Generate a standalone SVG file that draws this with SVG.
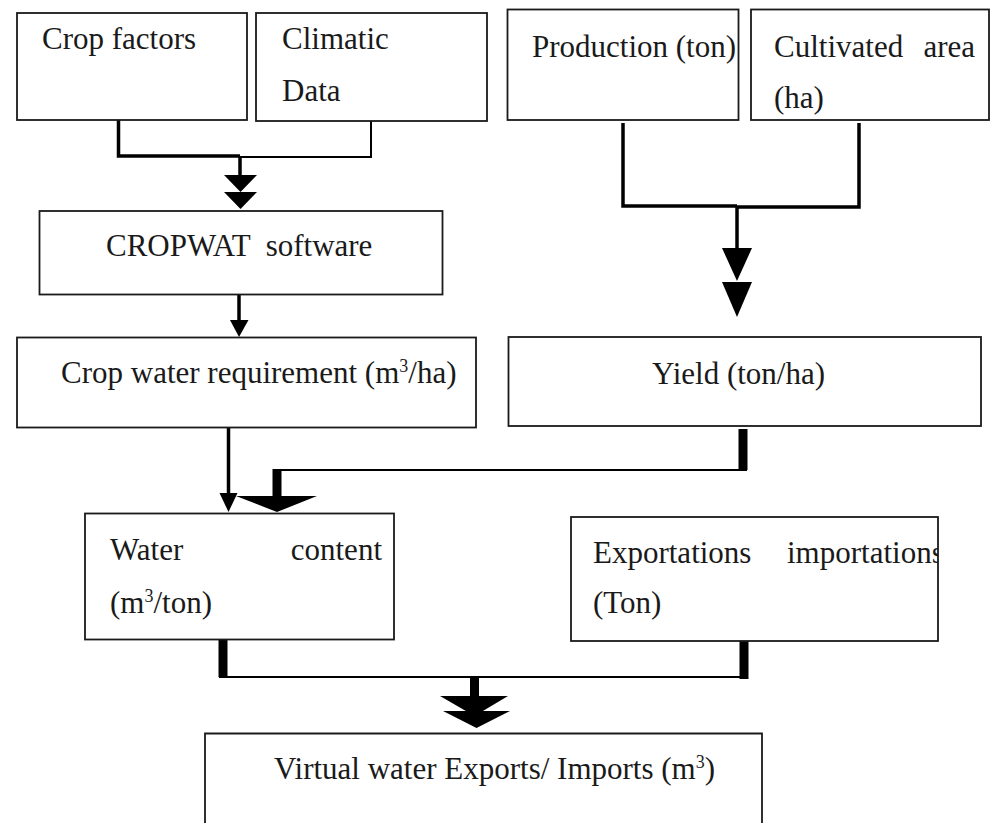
<svg xmlns="http://www.w3.org/2000/svg" width="990" height="823" viewBox="0 0 990 823">
<style>
.box{fill:#fff;stroke:#1a1a1a;stroke-width:1.8}
text{font-family:"Liberation Serif","Times New Roman",serif;font-size:31px;fill:#1a1a1a;white-space:pre}
.sup{font-size:18px}
.thin{fill:none;stroke:#000;stroke-width:2}
.mid{fill:none;stroke:#000;stroke-width:3.5}
.thick{fill:none;stroke:#000;stroke-width:9}
.head{fill:#000;stroke:none}
</style>
<defs>
<clipPath id="clipExp"><rect x="571" y="517" width="367" height="124"/></clipPath>
</defs>
<rect width="990" height="823" fill="#fff"/>
<g id="connectors">
<polyline class="mid" points="118.5,120 118.5,156 240,156"/>
<polyline class="thin" points="240,157 371,157 371,121"/>
<line class="mid" x1="240" y1="156" x2="240" y2="176"/>
<polygon class="head" points="224,175 257,175 240.5,192"/>
<polygon class="head" points="224,192 257,192 240.5,209"/>
<polyline class="mid" points="623,123 623,206 737,206"/>
<polyline class="mid" points="737,207 859,207 859,123"/>
<line class="mid" x1="737" y1="206" x2="737" y2="250"/>
<polygon class="head" points="722,248 752,248 737,281"/>
<polygon class="head" points="722,282 752,282 737,317"/>
<line class="mid" x1="239" y1="294" x2="239" y2="322"/>
<polygon class="head" points="230,320 248.5,320 239,337"/>
<line class="mid" x1="228.5" y1="428" x2="228.5" y2="495"/>
<polygon class="head" points="219.5,493 237.5,493 228.5,512"/>
<line class="thick" x1="743" y1="429" x2="743" y2="470"/>
<line class="thin" x1="747" y1="470" x2="277" y2="470"/>
<line class="thick" x1="277" y1="469" x2="277" y2="498"/>
<polygon class="head" points="236,496 317,496 277,512"/>
<line class="thick" x1="223" y1="639" x2="223" y2="677"/>
<line class="thin" x1="219" y1="677" x2="748" y2="677"/>
<line class="thick" x1="744" y1="641" x2="744" y2="679"/>
<line class="thick" x1="474.5" y1="676" x2="474.5" y2="698"/>
<polygon class="head" points="440,696 508,696 474.5,716"/>
<polygon class="head" points="443,711 510,711 476.5,728"/>
</g>
<g id="crop-factors">
<rect class="box" x="17" y="13" width="230" height="107"/>
<text x="42" y="49">Crop factors</text>
</g>
<g id="climatic-data">
<rect class="box" x="256" y="13" width="231" height="108"/>
<text x="282" y="49">Climatic</text>
<text x="282" y="101">Data</text>
</g>
<g id="production">
<rect class="box" x="507.5" y="9.5" width="231" height="110.5"/>
<text x="532" y="57">Production (ton)</text>
</g>
<g id="cultivated-area">
<rect class="box" x="751" y="9.5" width="238" height="110.5"/>
<text x="774" y="57">Cultivated</text>
<text x="975" y="57" text-anchor="end">area</text>
<text x="774" y="108">(ha)</text>
</g>
<g id="cropwat">
<rect class="box" x="39.5" y="211" width="403" height="83.5"/>
<text x="106" y="256">CROPWAT  software</text>
</g>
<g id="crop-water-requirement">
<rect class="box" x="17" y="337.5" width="459" height="90"/>
<text x="61" y="383">Crop water requirement (m<tspan class="sup" dy="-11">3</tspan><tspan dy="11">/ha)</tspan></text>
</g>
<g id="yield">
<rect class="box" x="508.5" y="337" width="472.5" height="89"/>
<text x="652" y="384">Yield (ton/ha)</text>
</g>
<g id="water-content">
<rect class="box" x="85" y="513.5" width="309" height="126"/>
<text x="110" y="560">Water</text>
<text x="382" y="560" text-anchor="end">content</text>
<text x="110" y="613">(m<tspan class="sup" dy="-11">3</tspan><tspan dy="11">/ton)</tspan></text>
</g>
<g id="exportations-importations">
<rect class="box" x="571" y="517" width="367" height="124"/>
<g clip-path="url(#clipExp)">
<text x="593" y="563">Exportations</text>
<text x="787" y="563">importations</text>
</g>
<text x="593" y="613">(Ton)</text>
</g>
<g id="virtual-water">
<path class="box" d="M205,830 V733.5 H762 V830"/>
<text x="274" y="779">Virtual water Exports/ Imports (m<tspan class="sup" dy="-11">3</tspan><tspan dy="11">)</tspan></text>
</g>
</svg>
